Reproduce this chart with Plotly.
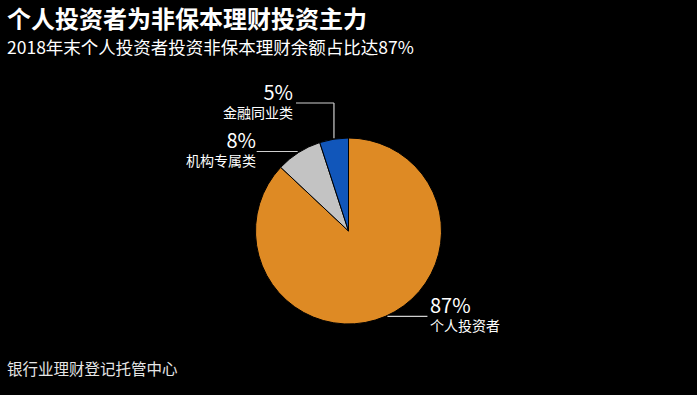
import math
import plotly.graph_objects as go

W, H = 697, 395

categories = ["个人投资者", "机构专属类", "金融同业类"]
shares = [87, 8, 5]
colors = ["#DE8A24", "#C3C3C3", "#1156BA"]

title = "个人投资者为非保本理财投资主力"
subtitle = "2018年末个人投资者投资非保本理财余额占比达87%"
source = "银行业理财登记托管中心"

FONT = "Noto Sans CJK SC, Noto Sans, sans-serif"

# pie geometry (pixels)
cx, cy, r = 348.5, 231.0, 93.0


def px(x):
    return x / W


def py(y):
    return 1 - y / H


fig = go.Figure(go.Pie(
    labels=categories,
    values=shares,
    sort=False,
    direction="clockwise",
    rotation=0,
    marker=dict(colors=colors, line=dict(color="#000000", width=1)),
    textinfo="none",
    hoverinfo="label+percent",
    showlegend=False,
    domain=dict(x=[px(cx - r), px(cx + r)], y=[py(cy + r), py(cy - r)]),
))

# slice mid-angles (clockwise from 12 o'clock)
total = sum(shares)
mids = []
acc = 0
for v in shares:
    mids.append((acc + v / 2) / total * 2 * math.pi)
    acc += v


def edge(a):
    return cx + r * math.sin(a), cy - r * math.cos(a)


shapes = []
annotations = []
line_style = dict(color="#CFCFCF", width=1.2)


def label(x, y_line, anchor, value, name):
    annotations.append(dict(
        x=px(x), y=py(y_line - 4), xanchor=anchor, yanchor="middle", align=anchor,
        text=f"<span style='font-size:20px'>{value}%</span><br>{name}",
        font=dict(size=14, color="white", family=FONT)))


# 87% - right, horizontal leader
ex, ey = edge(mids[0])
shapes.append(dict(type="line", xref="paper", yref="paper",
                   x0=px(ex + 2), y0=py(ey), x1=px(ex + 42), y1=py(ey), line=line_style))
label(ex + 43, ey, "left", shares[0], categories[0])

# 8% - left, horizontal leader
ex, ey = edge(mids[1])
shapes.append(dict(type="line", xref="paper", yref="paper",
                   x0=px(ex - 1), y0=py(ey - 1), x1=px(ex - 42), y1=py(ey - 1), line=line_style))
label(ex - 41, ey - 1, "right", shares[1], categories[1])

# 5% - elbow leader up then left
ex, ey = edge(mids[2])
ty = 103
shapes.append(dict(type="line", xref="paper", yref="paper",
                   x0=px(ex), y0=py(ey - 1), x1=px(ex), y1=py(ty), line=line_style))
shapes.append(dict(type="line", xref="paper", yref="paper",
                   x0=px(ex), y0=py(ty), x1=px(ex - 38), y1=py(ty), line=line_style))
label(ex - 39, ty, "right", shares[2], categories[2])

# titles and source
annotations.append(dict(x=px(5), y=py(17), xanchor="left", yanchor="middle",
                        text=f"<b>{title}</b>", font=dict(size=24, color="white", family=FONT)))
annotations.append(dict(x=px(5), y=py(47), xanchor="left", yanchor="middle",
                        text=subtitle, font=dict(size=17.5, color="white", family=FONT)))
annotations.append(dict(x=px(5), y=py(368), xanchor="left", yanchor="middle",
                        text=source, font=dict(size=15.5, color="#E6E6E6", family=FONT)))

for a in annotations:
    a.update(xref="paper", yref="paper", showarrow=False)

fig.update_layout(
    width=W, height=H,
    margin=dict(l=0, r=0, t=0, b=0),
    paper_bgcolor="#000000",
    plot_bgcolor="#000000",
    shapes=shapes,
    annotations=annotations,
    font=dict(family=FONT, color="white"),
)

fig.write_html("out.html", config={"displayModeBar": False},
               post_script="document.body.style.margin='0';document.body.style.background='#000';")
